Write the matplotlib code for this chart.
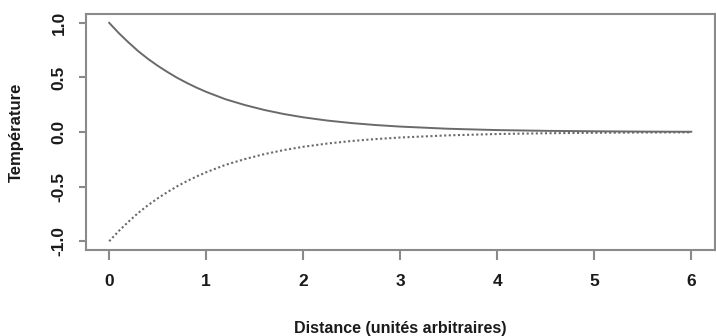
import numpy as np
import matplotlib.pyplot as plt

plt.rcParams['font.family'] = ['Liberation Sans', 'DejaVu Sans']

# valeurs
distance = [0, 0.1, 0.2, 0.3, 0.4, 0.5, 0.6, 0.7, 0.8, 0.9, 1.0, 1.2, 1.4,
            1.6, 1.8, 2.0, 2.25, 2.5, 2.75, 3.0, 3.5, 4.0, 4.5, 5.0, 5.5, 6.0]
temp_haut = [1.0, 0.905, 0.82, 0.74, 0.67, 0.607, 0.55, 0.497, 0.45, 0.407,
             0.368, 0.30, 0.247, 0.202, 0.165, 0.135, 0.105, 0.082, 0.064,
             0.05, 0.03, 0.018, 0.011, 0.007, 0.004, 0.0025]
temp_bas = [-1.0, -0.905, -0.82, -0.74, -0.67, -0.607, -0.55, -0.497, -0.45,
            -0.407, -0.368, -0.30, -0.247, -0.202, -0.165, -0.135, -0.105,
            -0.082, -0.064, -0.05, -0.03, -0.018, -0.011, -0.007, -0.004,
            -0.0025]

xticks = [0, 1, 2, 3, 4, 5, 6]
yticks = [-1.0, -0.5, 0.0, 0.5, 1.0]

fig = plt.figure(figsize=(7.16, 3.36), dpi=100)
ax = fig.add_axes([0.120, 0.256, 0.878, 0.702])

gris = '#6a6a6a'
ax.plot(distance, temp_haut, color=gris, lw=1.4)
ax.plot(distance, temp_bas, color=gris, lw=1.5, linestyle=(0, (1, 1.2)))

ax.set_xlim(-0.24, 6.24)
ax.set_ylim(-1.08, 1.08)
ax.set_xticks(xticks)
ax.set_xticklabels([str(v) for v in xticks])
ax.set_yticks(yticks)
ax.set_yticklabels(['%.1f' % v for v in yticks], rotation=90, va='center')

for s in ax.spines.values():
    s.set_color('#8a8a8a')
    s.set_linewidth(1.5)
ax.tick_params(axis='x', colors='#8a8a8a', width=1.5, length=7,
               labelsize=12.5, labelcolor='#1a1a1a', pad=10)
ax.tick_params(axis='y', colors='#8a8a8a', width=1.5, length=5,
               labelsize=12.5, labelcolor='#1a1a1a', pad=9)
for lab in ax.get_xticklabels() + ax.get_yticklabels():
    lab.set_fontweight('bold')

ax.set_xlabel('Distance (unités arbitraires)', fontsize=11.5, fontweight='bold',
              color='#1a1a1a', labelpad=23)
ax.set_ylabel('Température', fontsize=12, fontweight='bold',
              color='#1a1a1a', labelpad=20)

fig.savefig('out.png', dpi=100)
